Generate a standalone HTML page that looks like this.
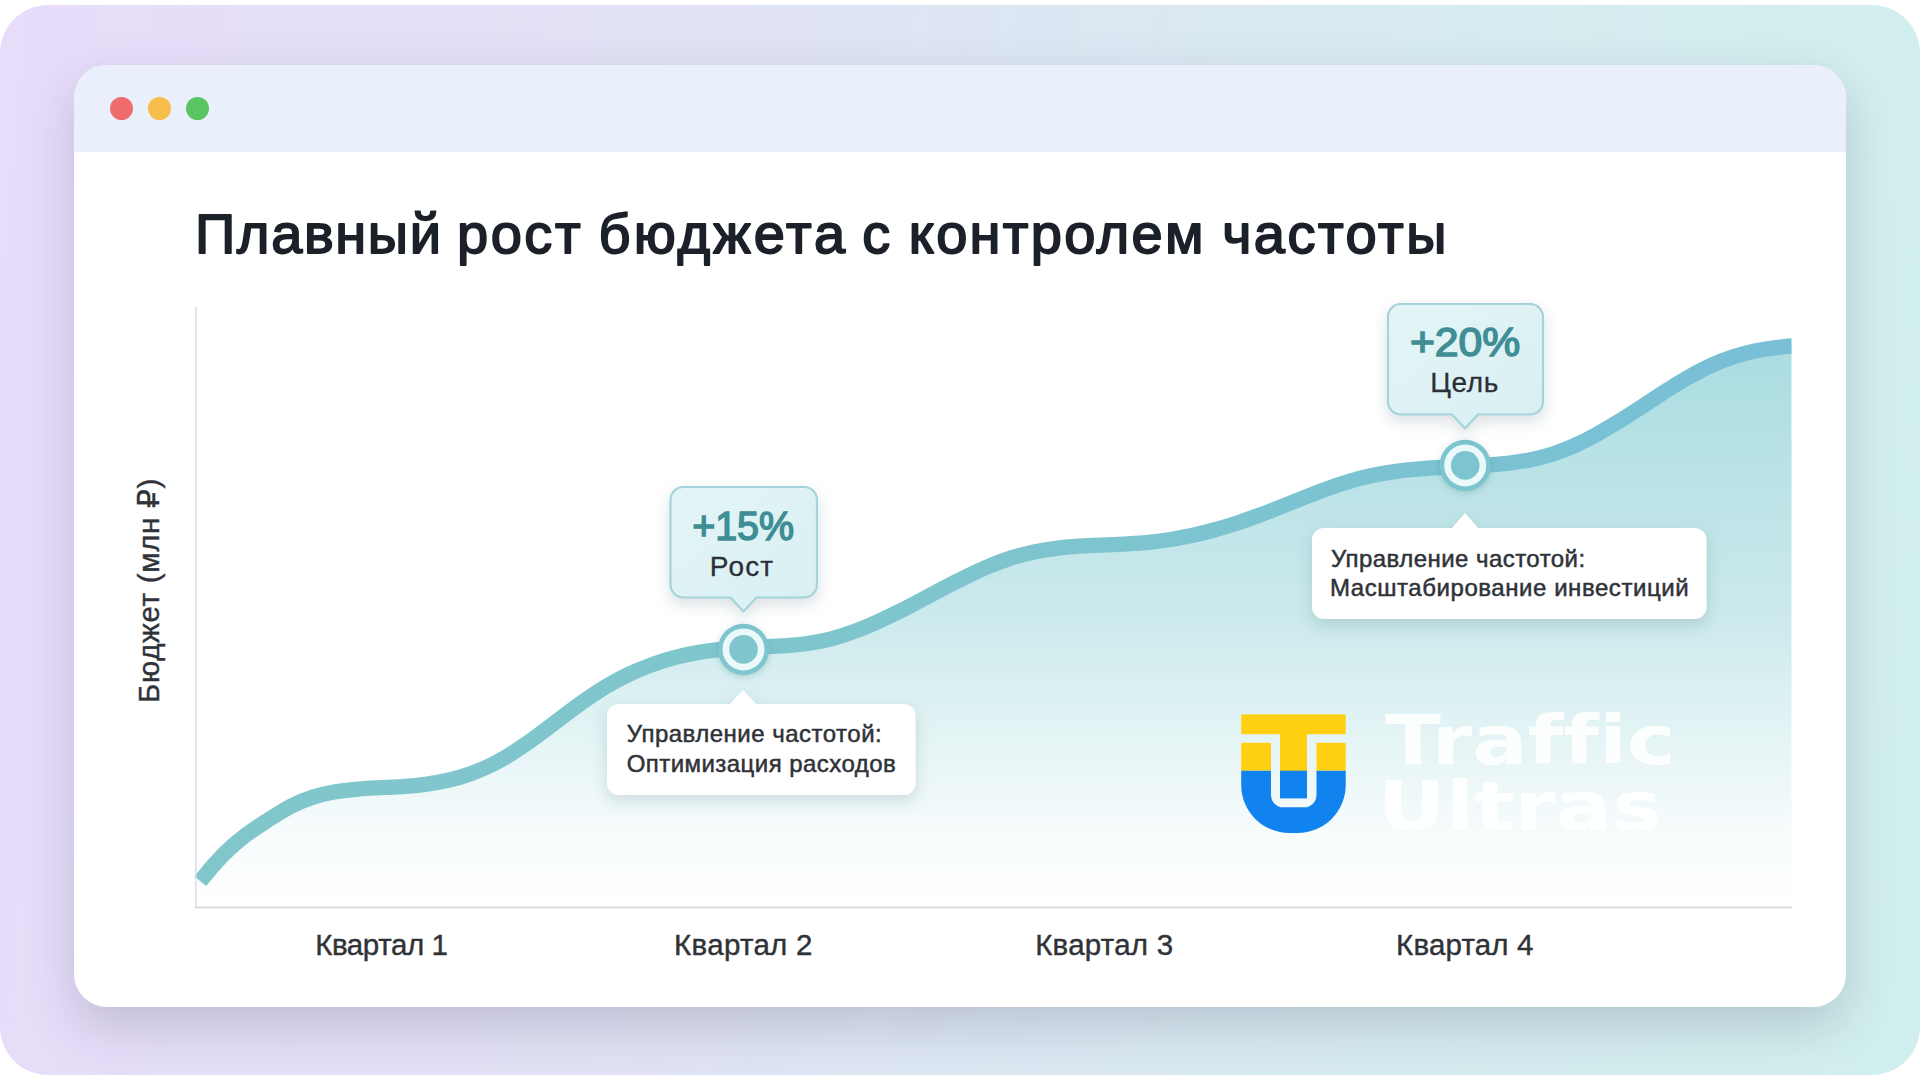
<!DOCTYPE html>
<html lang="ru">
<head>
<meta charset="utf-8">
<title>Плавный рост бюджета с контролем частоты</title>
<style>
html,body{margin:0;padding:0;background:#fff;}
body{width:1920px;height:1080px;position:relative;overflow:hidden;font-family:"Liberation Sans","DejaVu Sans",sans-serif;}
.bg{position:absolute;left:0;top:5px;width:1920px;height:1070px;border-radius:48px;
  background:linear-gradient(95deg,#e7dcfa 0%,#e3e0f6 25%,#dde6f3 50%,#d6ecf0 75%,#d1efee 100%);}
.card{position:absolute;left:74px;top:65px;width:1772px;height:942px;border-radius:33px;background:#fff;
  box-shadow:0 19px 50px 0 rgba(60,62,90,.21);overflow:hidden;}
.bar{position:absolute;left:0;top:0;width:100%;height:87px;background:#e9f0fb;}
.dot{position:absolute;top:32px;width:23px;height:23px;border-radius:50%;}
svg{position:absolute;left:0;top:0;}
text{font-family:"Liberation Sans","DejaVu Sans",sans-serif;font-variant-ligatures:none;}
.logo text{font-family:"DejaVu Sans","Liberation Sans",sans-serif;font-weight:bold;}
</style>
</head>
<body>
<div class="bg"></div>
<div class="card">
  <div class="bar">
    <span class="dot" style="left:36px;background:#f06b6b"></span>
    <span class="dot" style="left:74px;background:#f7bd4a"></span>
    <span class="dot" style="left:112px;background:#5ac462"></span>
  </div>
</div>
<svg width="1920" height="1080" viewBox="0 0 1920 1080">
  <defs>
    <linearGradient id="fill" gradientUnits="userSpaceOnUse" x1="0" y1="340" x2="0" y2="907">
      <stop offset="0" stop-color="#a9dce1"/>
      <stop offset="0.5" stop-color="#cdeaed"/>
      <stop offset="0.7" stop-color="#e4f4f5"/>
      <stop offset="0.86" stop-color="#f6fbfc"/>
      <stop offset="1" stop-color="#ffffff"/>
    </linearGradient>
    <linearGradient id="line" gradientUnits="userSpaceOnUse" x1="196" y1="0" x2="1792" y2="0">
      <stop offset="0" stop-color="#80c6cb"/>
      <stop offset="0.45" stop-color="#7fc5cd"/>
      <stop offset="0.75" stop-color="#7bc3d2"/>
      <stop offset="1" stop-color="#78bfd7"/>
    </linearGradient>
    <linearGradient id="tip" x1="0" y1="0" x2="1" y2="1">
      <stop offset="0" stop-color="#e3f5f7"/>
      <stop offset="1" stop-color="#d9eff2"/>
    </linearGradient>
    <filter id="sh" x="-20%" y="-20%" width="140%" height="160%">
      <feDropShadow dx="0" dy="6" stdDeviation="7" flood-color="#28505a" flood-opacity="0.17"/>
    </filter>
    <filter id="sh2" x="-20%" y="-30%" width="140%" height="180%">
      <feDropShadow dx="0" dy="6" stdDeviation="8" flood-color="#28505a" flood-opacity="0.18"/>
    </filter>
    <clipPath id="plot"><rect x="180" y="300" width="1611.5" height="620"/></clipPath>
    <filter id="glow" x="-50%" y="-50%" width="200%" height="200%">
      <feDropShadow dx="0" dy="2" stdDeviation="3" flood-color="#2c6f78" flood-opacity="0.25"/>
    </filter>
  </defs>

  <!-- title -->
  <text font-size="56" fill="#1b2029" stroke="#1b2029" stroke-width="1.8" stroke-linejoin="round"><tspan x="195.00" y="252.6" textLength="246.00" >Плавный</tspan> <tspan x="457.00" y="252.6" textLength="123.54" >рост</tspan> <tspan x="598.59" y="252.6" textLength="246.64" >бюджета</tspan> <tspan x="862.13" y="252.6" textLength="34.48" >с</tspan> <tspan x="908.72" y="252.6" textLength="294.67" >контролем</tspan> <tspan x="1222.15" y="252.6" textLength="224.30" >частоты</tspan></text>

  <!-- chart area -->
  <g clip-path="url(#plot)">
    <path d="M200.3 881.2 C207.8 871.6 215.3 862.9 222.8 855.2 C230.3 847.6 237.9 841.0 245.4 835.4 C252.9 829.8 260.4 825.0 267.9 820.1 C275.4 815.3 282.9 810.4 290.4 806.4 C297.9 802.5 305.4 799.5 313.0 797.1 C320.5 794.8 328.0 793.1 335.5 791.8 C343.0 790.5 350.5 789.7 358.0 789.1 C365.5 788.4 373.0 788.1 380.5 787.7 C388.1 787.4 395.6 787.1 403.1 786.6 C410.6 786.1 418.1 785.4 425.6 784.4 C433.1 783.4 440.6 782.0 448.1 780.3 C455.7 778.5 463.2 776.4 470.7 773.7 C478.2 771.0 485.7 767.8 493.2 764.0 C500.7 760.3 508.2 755.8 515.7 750.9 C523.2 746.0 530.8 740.7 538.3 735.1 C545.8 729.6 553.3 723.8 560.8 718.1 C568.3 712.4 575.8 706.8 583.3 701.5 C590.8 696.1 598.3 691.1 605.9 686.6 C613.4 682.1 620.9 678.1 628.4 674.5 C635.9 671.0 643.4 667.8 650.9 665.1 C658.4 662.3 665.9 659.9 673.5 657.9 C681.0 655.9 688.5 654.2 696.0 652.9 C703.5 651.5 711.0 650.5 718.5 649.7 C726.0 648.9 733.5 648.3 741.0 647.9 C748.6 647.5 756.1 647.2 763.6 646.9 C771.1 646.5 778.6 646.1 786.1 645.6 C793.6 645.0 801.1 644.3 808.6 643.2 C816.1 642.1 823.7 640.7 831.2 638.8 C838.7 636.9 846.2 634.5 853.7 631.7 C861.2 629.0 868.7 625.8 876.2 622.5 C883.7 619.1 891.3 615.4 898.8 611.7 C906.3 607.9 913.8 603.9 921.3 600.0 C928.8 596.0 936.3 592.0 943.8 588.1 C951.3 584.1 958.8 580.3 966.4 576.6 C973.9 573.0 981.4 569.5 988.9 566.3 C996.4 563.2 1003.9 560.3 1011.4 557.9 C1018.9 555.5 1026.4 553.5 1033.9 551.9 C1041.5 550.3 1049.0 549.2 1056.5 548.3 C1064.0 547.3 1071.5 546.7 1079.0 546.2 C1086.5 545.7 1094.0 545.4 1101.5 545.1 C1109.0 544.8 1116.6 544.5 1124.1 544.1 C1131.6 543.7 1139.1 543.2 1146.6 542.6 C1154.1 541.9 1161.6 541.0 1169.1 539.8 C1176.6 538.6 1184.2 537.2 1191.7 535.6 C1199.2 533.9 1206.7 532.0 1214.2 530.0 C1221.7 527.9 1229.2 525.6 1236.7 523.2 C1244.2 520.7 1251.7 518.1 1259.3 515.3 C1266.8 512.5 1274.3 509.5 1281.8 506.5 C1289.3 503.5 1296.8 500.5 1304.3 497.5 C1311.8 494.5 1319.3 491.6 1326.8 488.8 C1334.4 486.1 1341.9 483.5 1349.4 481.3 C1356.9 479.0 1364.4 477.1 1371.9 475.5 C1379.4 473.9 1386.9 472.6 1394.4 471.6 C1402.0 470.5 1409.5 469.7 1417.0 469.1 C1424.5 468.4 1432.0 467.9 1439.5 467.5 C1447.0 467.1 1454.5 466.7 1462.0 466.4 C1469.5 466.0 1477.1 465.7 1484.6 465.2 C1492.1 464.7 1499.6 464.1 1507.1 463.3 C1514.6 462.4 1522.1 461.4 1529.6 459.9 C1537.1 458.4 1544.6 456.5 1552.2 454.2 C1559.7 451.8 1567.2 448.9 1574.7 445.5 C1582.2 442.1 1589.7 438.3 1597.2 434.1 C1604.7 429.9 1612.2 425.4 1619.8 420.8 C1627.3 416.1 1634.8 411.2 1642.3 406.3 C1649.8 401.4 1657.3 396.5 1664.8 391.7 C1672.3 386.9 1679.8 382.3 1687.3 377.9 C1694.9 373.6 1702.4 369.6 1709.9 366.0 C1717.4 362.5 1724.9 359.5 1732.4 357.1 C1739.9 354.6 1747.4 352.6 1754.9 351.0 C1762.4 349.5 1770.0 348.3 1777.5 347.4 C1785.0 346.5 1792.5 345.9 1800.0 345.5 L1800 907 L196 907 L196 881 Z" fill="url(#fill)"/>
    <path d="M200.3 881.2 C207.8 871.6 215.3 862.9 222.8 855.2 C230.3 847.6 237.9 841.0 245.4 835.4 C252.9 829.8 260.4 825.0 267.9 820.1 C275.4 815.3 282.9 810.4 290.4 806.4 C297.9 802.5 305.4 799.5 313.0 797.1 C320.5 794.8 328.0 793.1 335.5 791.8 C343.0 790.5 350.5 789.7 358.0 789.1 C365.5 788.4 373.0 788.1 380.5 787.7 C388.1 787.4 395.6 787.1 403.1 786.6 C410.6 786.1 418.1 785.4 425.6 784.4 C433.1 783.4 440.6 782.0 448.1 780.3 C455.7 778.5 463.2 776.4 470.7 773.7 C478.2 771.0 485.7 767.8 493.2 764.0 C500.7 760.3 508.2 755.8 515.7 750.9 C523.2 746.0 530.8 740.7 538.3 735.1 C545.8 729.6 553.3 723.8 560.8 718.1 C568.3 712.4 575.8 706.8 583.3 701.5 C590.8 696.1 598.3 691.1 605.9 686.6 C613.4 682.1 620.9 678.1 628.4 674.5 C635.9 671.0 643.4 667.8 650.9 665.1 C658.4 662.3 665.9 659.9 673.5 657.9 C681.0 655.9 688.5 654.2 696.0 652.9 C703.5 651.5 711.0 650.5 718.5 649.7 C726.0 648.9 733.5 648.3 741.0 647.9 C748.6 647.5 756.1 647.2 763.6 646.9 C771.1 646.5 778.6 646.1 786.1 645.6 C793.6 645.0 801.1 644.3 808.6 643.2 C816.1 642.1 823.7 640.7 831.2 638.8 C838.7 636.9 846.2 634.5 853.7 631.7 C861.2 629.0 868.7 625.8 876.2 622.5 C883.7 619.1 891.3 615.4 898.8 611.7 C906.3 607.9 913.8 603.9 921.3 600.0 C928.8 596.0 936.3 592.0 943.8 588.1 C951.3 584.1 958.8 580.3 966.4 576.6 C973.9 573.0 981.4 569.5 988.9 566.3 C996.4 563.2 1003.9 560.3 1011.4 557.9 C1018.9 555.5 1026.4 553.5 1033.9 551.9 C1041.5 550.3 1049.0 549.2 1056.5 548.3 C1064.0 547.3 1071.5 546.7 1079.0 546.2 C1086.5 545.7 1094.0 545.4 1101.5 545.1 C1109.0 544.8 1116.6 544.5 1124.1 544.1 C1131.6 543.7 1139.1 543.2 1146.6 542.6 C1154.1 541.9 1161.6 541.0 1169.1 539.8 C1176.6 538.6 1184.2 537.2 1191.7 535.6 C1199.2 533.9 1206.7 532.0 1214.2 530.0 C1221.7 527.9 1229.2 525.6 1236.7 523.2 C1244.2 520.7 1251.7 518.1 1259.3 515.3 C1266.8 512.5 1274.3 509.5 1281.8 506.5 C1289.3 503.5 1296.8 500.5 1304.3 497.5 C1311.8 494.5 1319.3 491.6 1326.8 488.8 C1334.4 486.1 1341.9 483.5 1349.4 481.3 C1356.9 479.0 1364.4 477.1 1371.9 475.5 C1379.4 473.9 1386.9 472.6 1394.4 471.6 C1402.0 470.5 1409.5 469.7 1417.0 469.1 C1424.5 468.4 1432.0 467.9 1439.5 467.5 C1447.0 467.1 1454.5 466.7 1462.0 466.4 C1469.5 466.0 1477.1 465.7 1484.6 465.2 C1492.1 464.7 1499.6 464.1 1507.1 463.3 C1514.6 462.4 1522.1 461.4 1529.6 459.9 C1537.1 458.4 1544.6 456.5 1552.2 454.2 C1559.7 451.8 1567.2 448.9 1574.7 445.5 C1582.2 442.1 1589.7 438.3 1597.2 434.1 C1604.7 429.9 1612.2 425.4 1619.8 420.8 C1627.3 416.1 1634.8 411.2 1642.3 406.3 C1649.8 401.4 1657.3 396.5 1664.8 391.7 C1672.3 386.9 1679.8 382.3 1687.3 377.9 C1694.9 373.6 1702.4 369.6 1709.9 366.0 C1717.4 362.5 1724.9 359.5 1732.4 357.1 C1739.9 354.6 1747.4 352.6 1754.9 351.0 C1762.4 349.5 1770.0 348.3 1777.5 347.4 C1785.0 346.5 1792.5 345.9 1800.0 345.5" fill="none" stroke="url(#line)" stroke-width="15.3" stroke-linecap="butt" stroke-linejoin="round"/>
  </g>
  <!-- axes -->
  <rect x="195" y="307" width="1.6" height="601" fill="#dbdfe7"/>
  <rect x="195" y="906.5" width="1597" height="2" fill="#d9dbdf"/>

  <!-- axis labels -->
  <g transform="translate(159 800.6) rotate(-90)"><text x="97.60" y="0" textLength="224.22" font-size="29.5" fill="#2f3237" stroke="#2f3237" stroke-width="0.4">Бюджет (млн ₽)</text></g>
  <g font-size="29.5" fill="#2f3237" stroke="#2f3237" stroke-width="0.4">
    <text x="315.22" y="954.7" textLength="132.63" >Квартал 1</text>
    <text x="674.11" y="954.7" textLength="138.37" >Квартал 2</text>
    <text x="1035.22" y="954.7" textLength="137.84" >Квартал 3</text>
    <text x="1396.11" y="954.7" textLength="137.41" >Квартал 4</text>
  </g>

  <!-- logo -->
  <g class="logo">
    <rect x="1241.2" y="714.4" width="104.5" height="19.8" fill="#ffd012"/>
    <rect x="1280" y="734" width="27" height="37" fill="#ffd012"/>
    <rect x="1280" y="770.7" width="27" height="27.7" fill="#1183ee"/>
    <path d="M1241.2 742.8 H1271 V770.8 H1241.2 Z M1316.5 742.8 H1345.7 V770.8 H1316.5 Z" fill="#ffd012"/>
    <path d="M1241.2 770.7 H1271 V795 a12.3 12.3 0 0 0 12.3 12.3 H1304.2 a12.3 12.3 0 0 0 12.3 -12.3 V770.7 H1345.7 V785 a48 48 0 0 1 -48 48 H1289.2 a48 48 0 0 1 -48 -48 Z" fill="#1183ee"/>
    <g fill="#ffffff" fill-opacity="0.9" font-size="67">
      <text x="1384.97" y="764" textLength="290.59" lengthAdjust="spacingAndGlyphs">Traffic</text>
      <text x="1377.83" y="830.3" textLength="283.98" lengthAdjust="spacingAndGlyphs">Ultras</text>
    </g>
  </g>

  <!-- marker 1 -->
  <g filter="url(#glow)">
    <circle cx="743.5" cy="649.4" r="25.6" fill="#7fc5cd"/>
  </g>
  <circle cx="743.5" cy="649.4" r="21" fill="#ecf9fa"/>
  <circle cx="743.5" cy="649.4" r="14.3" fill="#7fc5cd"/>
  <!-- tip 1 -->
  <g filter="url(#sh)">
    <path d="M683.5 487 H804 a13 13 0 0 1 13 13 V584.5 a13 13 0 0 1 -13 13 H756.5 L743.5 611.5 L730.5 597.5 H683.5 a13 13 0 0 1 -13 -13 V500 a13 13 0 0 1 13 -13 Z" fill="url(#tip)" stroke="#a3d4d9" stroke-width="2.2" stroke-linejoin="round"/>
  </g>
  <text x="692.15" y="539.7" textLength="102.01" font-size="40" fill="#3f8e96" stroke="#3f8e96" stroke-width="1.5" lengthAdjust="spacingAndGlyphs">+15%</text>
  <text x="709.72" y="576" textLength="63.47" font-size="28" fill="#2b2f36" stroke="#2b2f36" stroke-width="0.3">Рост</text>
  <!-- box 1 -->
  <g filter="url(#sh2)">
    <path d="M619 704 H730 L743 690 L756 704 H903.5 a12 12 0 0 1 12 12 V783 a12 12 0 0 1 -12 12 H619 a12 12 0 0 1 -12 -12 V716 a12 12 0 0 1 12 -12 Z" fill="#ffffff"/>
  </g>
  <g font-size="24" fill="#2f3237" stroke="#2f3237" stroke-width="0.5">
    <text x="626.74" y="742" textLength="255.01" >Управление частотой:</text>
    <text x="626.64" y="771.7" textLength="269.15" >Оптимизация расходов</text>
  </g>

  <!-- marker 2 -->
  <g filter="url(#glow)">
    <circle cx="1465.2" cy="465.4" r="25.6" fill="#7cc4d0"/>
  </g>
  <circle cx="1465.2" cy="465.4" r="21" fill="#ecf9fa"/>
  <circle cx="1465.2" cy="465.4" r="14.3" fill="#7cc4d0"/>
  <!-- tip 2 -->
  <g filter="url(#sh)">
    <path d="M1401 304 H1530 a13 13 0 0 1 13 13 V401.5 a13 13 0 0 1 -13 13 H1478 L1465 428.5 L1452 414.5 H1401 a13 13 0 0 1 -13 -13 V317 a13 13 0 0 1 13 -13 Z" fill="url(#tip)" stroke="#a3d4d9" stroke-width="2.2" stroke-linejoin="round"/>
  </g>
  <text x="1409.90" y="356.4" textLength="110.42" font-size="40" fill="#3f8e96" stroke="#3f8e96" stroke-width="1.5" lengthAdjust="spacingAndGlyphs">+20%</text>
  <text x="1430.30" y="392" textLength="68.11" font-size="28" fill="#2b2f36" stroke="#2b2f36" stroke-width="0.3">Цель</text>
  <!-- box 2 -->
  <g filter="url(#sh2)">
    <path d="M1324 528 H1452 L1465 513 L1478 528 H1694.5 a12 12 0 0 1 12 12 V607 a12 12 0 0 1 -12 12 H1324 a12 12 0 0 1 -12 -12 V540 a12 12 0 0 1 12 -12 Z" fill="#ffffff"/>
  </g>
  <g font-size="24" fill="#2f3237" stroke="#2f3237" stroke-width="0.5">
    <text x="1330.91" y="567" textLength="254.23" >Управление частотой:</text>
    <text x="1330.00" y="596.3" textLength="358.58" >Масштабирование инвестиций</text>
  </g>
</svg>
</body>
</html>
